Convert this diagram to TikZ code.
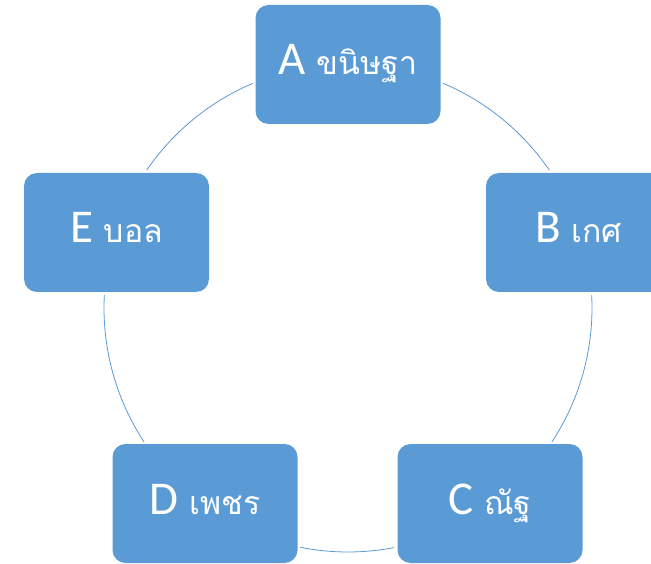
\documentclass[tikz,border=0pt]{standalone}
\usepackage{fontspec}
\setmainfont{Carlito}
\newfontfamily\thaifont[Script=Thai,Scale=0.68]{Loma}
\definecolor{boxblue}{HTML}{5B9BD5}
\tikzset{
  cyclebox/.style={rectangle, rounded corners=13pt, fill=boxblue, draw=none,
    minimum width=185pt, minimum height=119pt, inner sep=0pt,
    text=white, font=\fontsize{47}{56}\selectfont, text height=21pt, text depth=0pt},
  cyclearc/.style={draw=boxblue, line width=0.8pt}
}
\begin{document}
\begin{tikzpicture}[x=1pt,y=1pt]
\clip (0,0) rectangle (651,563);
\fill[white] (0,0) rectangle (651,563);
\coordinate (O) at (348,255);
\def\R{244}
% arcs
\draw[cyclearc] ([shift={(67.1:\R)}]O) arc[start angle=67.1, end angle=34.4, radius=\R];
\draw[cyclearc] ([shift={(3.05:\R)}]O) arc[start angle=3.05, end angle=-33.3, radius=\R];
\draw[cyclearc] ([shift={(-79.1:\R)}]O) arc[start angle=-79.1, end angle=-101.3, radius=\R];
\draw[cyclearc] ([shift={(-146.7:\R)}]O) arc[start angle=-146.7, end angle=-183.05, radius=\R];
\draw[cyclearc] ([shift={(145.6:\R)}]O) arc[start angle=145.6, end angle=112.9, radius=\R];
% boxes
\node[cyclebox] (A) at (348,498.5) {A {\thaifont ขนิษฐา}};
\node[cyclebox] (B) at (578.5,330.5) {B {\thaifont เกศ}};
\node[cyclebox] (C) at (490,59.5) {C {\thaifont ณัฐ}};
\node[cyclebox] (D) at (205,59.5) {D {\thaifont เพชร}};
\node[cyclebox] (E) at (116.5,330.5) {E {\thaifont บอล}};
\end{tikzpicture}
\end{document}
